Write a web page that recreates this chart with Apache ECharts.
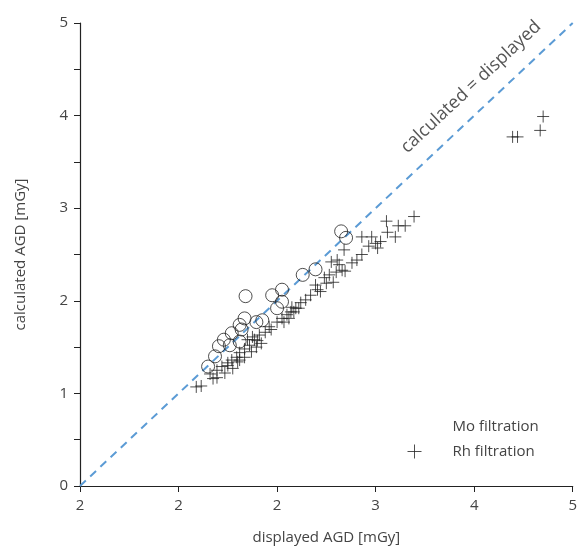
<!DOCTYPE html>
<html>
<head>
<meta charset="utf-8">
<script src="https://cdn.jsdelivr.net/npm/echarts@6/dist/echarts.min.js"></script>
<style>html,body{margin:0;padding:0;background:#fff}#c{width:580px;height:560px}</style>
</head>
<body>
<div id="c"></div>
<script>
var xTickLabels = ["2","2","2","3","4","5"];
var yTickLabels = ["0","1","2","3","4","5"];
var diagX = [0, 5];
var diagY = [0, 5];
var moX = [1.30,1.37,1.41,1.46,1.52,1.54,1.62,1.62,1.64,1.67,1.79,1.85,1.68,1.95,2.05,2.05,2.00,2.26,2.39,2.65,2.70];
var moY = [1.29,1.40,1.51,1.58,1.52,1.65,1.56,1.74,1.69,1.81,1.77,1.79,2.05,2.06,2.12,1.99,1.92,2.28,2.34,2.75,2.68];
var rhX = [1.18,1.23,1.32,1.35,1.39,1.39,1.44,1.47,1.50,1.54,1.55,1.59,1.60,1.62,1.67,1.67,1.72,1.74,1.77,1.79,1.82,1.84,1.88,1.92,1.94,2.00,2.05,2.10,2.14,2.19,2.24,2.29,2.34,2.39,2.41,2.44,2.48,2.50,2.53,2.57,2.60,2.63,2.66,2.69,2.68,2.61,2.55,2.76,2.81,2.86,2.86,2.96,3.00,3.05,2.93,3.02,3.12,3.20,3.11,3.23,3.30,3.39,4.39,4.44,4.67,4.70,1.70,1.75,1.80,2.07,2.12,2.17,2.22,2.15,1.62,1.50];
var rhY = [1.07,1.08,1.21,1.16,1.17,1.25,1.29,1.22,1.33,1.36,1.27,1.39,1.34,1.44,1.48,1.39,1.52,1.45,1.58,1.50,1.63,1.54,1.66,1.72,1.69,1.77,1.81,1.85,1.88,1.92,1.98,2.01,2.06,2.17,2.12,2.10,2.25,2.19,2.28,2.20,2.31,2.39,2.33,2.32,2.55,2.44,2.42,2.41,2.44,2.50,2.69,2.69,2.62,2.64,2.59,2.57,2.74,2.69,2.86,2.81,2.81,2.91,3.77,3.77,3.84,3.99,1.58,1.61,1.57,1.77,1.81,1.88,1.92,1.93,1.36,1.30];

function zip(a, b) { return a.map(function (v, i) { return [v, b[i]]; }); }

var txt = '#444';
var font = '"Open Sans", "DejaVu Sans", sans-serif';
var plusPath = 'path://M0,5L10,5M5,0L5,10';

var chart = echarts.init(document.getElementById('c'));
chart.setOption({
  animation: false,
  backgroundColor: '#fff',
  textStyle: { fontFamily: font },
  grid: { left: 80, right: 5, top: 23, bottom: 74 },
  xAxis: {
    type: 'value', min: 0, max: 5, interval: 1,
    name: 'displayed AGD [mGy]', nameLocation: 'middle', nameGap: 44,
    nameTextStyle: { color: txt, fontSize: 15, fontFamily: font },
    axisLine: { lineStyle: { color: '#222', width: 1.2 } },
    axisTick: { show: true, length: 6, lineStyle: { color: '#222' } },
    splitLine: { show: false },
    axisLabel: { color: txt, fontSize: 15, margin: 12, fontFamily: font,
      formatter: function (v) { return xTickLabels[Math.round(v)]; } }
  },
  yAxis: {
    type: 'value', min: 0, max: 5, interval: 0.5,
    name: 'calculated AGD [mGy]', nameLocation: 'middle', nameGap: 52,
    nameTextStyle: { color: txt, fontSize: 15, fontFamily: font },
    axisLine: { lineStyle: { color: '#222', width: 1.2 } },
    axisTick: { show: true, length: 6, lineStyle: { color: '#222' } },
    splitLine: { show: false },
    axisLabel: { color: txt, fontSize: 15, margin: 12, fontFamily: font,
      formatter: function (v) { return Math.abs(v - Math.round(v)) < 1e-6 ? yTickLabels[Math.round(v)] : ''; } }
  },
  legend: {
    orient: 'vertical', left: 400, top: 414, itemGap: 8,
    itemWidth: 14, itemHeight: 14,
    textStyle: { color: txt, fontSize: 15, fontFamily: font, padding: [0, 0, 0, 26] },
    data: [
      { name: 'Mo filtration', icon: 'circle', itemStyle: { opacity: 0, color: 'none', borderWidth: 0 } },
      { name: 'Rh filtration', icon: plusPath, itemStyle: { color: 'none', borderColor: '#222', borderWidth: 1 } }
    ]
  },
  graphic: [{
    type: 'text', x: 471, y: 87, rotation: 0.752, silent: true,
    style: { text: 'calculated = displayed', fill: '#555', fontSize: 18, fontFamily: font,
      textAlign: 'center', textVerticalAlign: 'middle' }
  }],
  series: [
    {
      name: 'diag', type: 'line', data: zip(diagX, diagY), symbol: 'none', silent: true,
      lineStyle: { color: '#5b9bd5', width: 2, type: [8, 6] }, z: 1
    },
    {
      name: 'Mo filtration', type: 'scatter', data: zip(moX, moY),
      symbol: 'circle', symbolSize: 13,
      itemStyle: { color: 'rgba(255,255,255,0)', borderColor: '#222', borderWidth: 1 }, z: 3
    },
    {
      name: 'Rh filtration', type: 'scatter', data: zip(rhX, rhY),
      symbol: plusPath, symbolSize: 12,
      itemStyle: { color: 'none', borderColor: '#222', borderWidth: 1 }, z: 3
    }
  ]
});
</script>
</body>
</html>
